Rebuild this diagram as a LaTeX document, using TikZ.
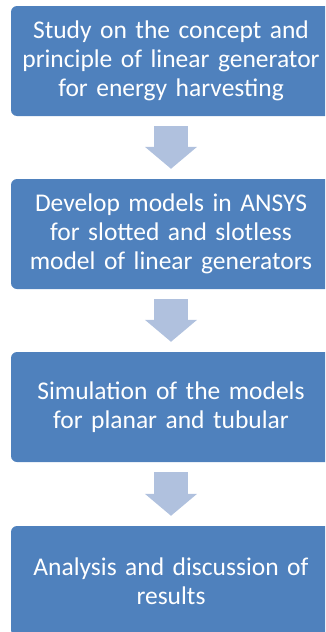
\documentclass[tikz,border=0pt]{standalone}
\usepackage{fontspec}
\setmainfont{Carlito}
\usetikzlibrary{arrows.meta}
\definecolor{boxblue}{RGB}{79,129,189}
\definecolor{arrowblue}{RGB}{176,193,222}
\begin{document}
\begin{tikzpicture}[x=1pt,y=1pt,
  stepbox/.style={fill=boxblue, draw=none, rounded corners=6pt, minimum width=320pt, minimum height=110pt,
    text width=316pt, align=center, text=white, font=\fontsize{25.5}{29}\selectfont, inner sep=0pt},
  flowarrow/.style={draw=arrowblue, line width=34pt, -{Triangle[width=51pt,length=22pt]}, shorten <=10pt, shorten >=10pt}]
\path[use as bounding box, clip] (0,0) rectangle (325,-632);
\node[stepbox] (b1) at (171,-61) {Study on the concept and\\principle of linear generator\\for energy harvesting};
\node[stepbox] (b2) at (171,-234) {Develop models in ANSYS\\for slotted and slotless\\model of linear generators};
\node[stepbox] (b3) at (171,-407) {Simulation of the models\\for planar and tubular};
\node[stepbox] (b4) at (171,-581) {Analysis and discussion of\\results};
\draw[flowarrow] (b1.south) -- (b2.north);
\draw[flowarrow] (b2.south) -- (b3.north);
\draw[flowarrow] (b3.south) -- (b4.north);
\end{tikzpicture}
\end{document}
